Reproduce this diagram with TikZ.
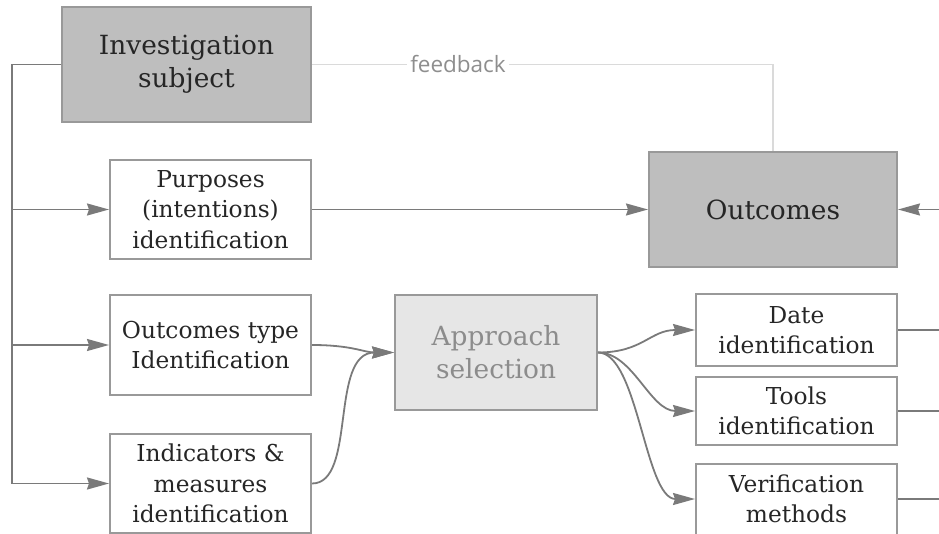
\documentclass[tikz,border=0pt]{standalone}
\usepackage{fontspec}
\setmainfont{DejaVu Serif}
\newfontfamily\fbfont{Open Sans}
\usetikzlibrary{arrows.meta}
\definecolor{linegray}{HTML}{7A7A7A}
\definecolor{boxborder}{HTML}{999999}
\definecolor{darkfill}{HTML}{BEBEBE}
\definecolor{lightfill}{HTML}{E6E6E6}
\definecolor{fbgray}{HTML}{DADADA}
\definecolor{fbtext}{HTML}{8E8E8E}
\definecolor{txt}{HTML}{262626}
\definecolor{apptxt}{HTML}{8C8C8C}
\tikzset{
  basebox/.style={draw=boxborder, line width=2pt, inner sep=0pt, align=center, text=txt, anchor=center},
  whitebox/.style={basebox, fill=white, font=\fontsize{23.3}{30.5}\selectfont},
  darkbox/.style={basebox, fill=darkfill, font=\fontsize{26.4}{33}\selectfont},
  lightbox/.style={basebox, fill=lightfill, text=apptxt, font=\fontsize{26.4}{33}\selectfont},
  conn/.style={draw=linegray, line width=1.8pt},
  arr/.style={conn, -{Stealth[length=22pt,width=12pt,inset=2pt]}},
  fbline/.style={draw=fbgray, line width=1.5pt},
}
\begin{document}
\begin{tikzpicture}[x=1pt,y=-1pt]
\useasboundingbox (0,0) rectangle (939,534);
% nodes
\node[darkbox, minimum width=249pt, minimum height=115pt] (inv) at (186.5,64.5) {Investigation\\subject};
\node[whitebox, minimum width=201pt, minimum height=99pt] (purp) at (210.5,209.5) {Purposes\\(intentions)\\identification};
\node[darkbox, minimum width=248pt, minimum height=115pt] (outc) at (773,209.5) {Outcomes};
\node[whitebox, minimum width=201pt, minimum height=100pt] (otype) at (210.5,345) {Outcomes type\\Identification};
\node[whitebox, minimum width=201pt, minimum height=99pt] (ind) at (210.5,483.5) {Indicators \&\\measures\\identification};
\node[lightbox, minimum width=202pt, minimum height=115pt] (appr) at (496,352.5) {Approach\\selection};
\node[whitebox, minimum width=201pt, minimum height=71pt] (date) at (796.5,330) {Date\\identification};
\node[whitebox, minimum width=201pt, minimum height=68pt] (tools) at (796.5,411) {Tools\\identification};
\node[whitebox, minimum width=201pt, minimum height=71pt] (verif) at (796.5,499) {Verification\\methods};
% free ends
\coordinate (trunkTop) at (12,64.5);
\coordinate (trunkBot) at (12,483.5);
\coordinate (fbcorner) at (773,64.5);
\coordinate (rOut) at (939,209.5);
\coordinate (rDate) at (939,330);
\coordinate (rTools) at (939,411);
\coordinate (rVerif) at (939,499);
% feedback
\draw[fbline] (inv.east) -- (fbcorner) -- (outc.north);
\node[fill=white, inner xsep=3pt, inner ysep=0pt, text=fbtext, font=\fbfont\fontsize{22.5}{26}\selectfont] (fb) at (458,64.5) {feedback};
% left trunk
\draw[conn] (inv.west) -- (trunkTop) -- (trunkBot);
\draw[arr] (trunkTop |- purp.west) -- (purp.west);
\draw[arr] (trunkTop |- otype.west) -- (otype.west);
\draw[arr] (trunkBot) -- (ind.west);
% main flow
\draw[arr] (purp.east) -- (outc.west);
\draw[arr] (rOut) -- (outc.east);
\draw[arr] (otype.east) .. controls +(40,0) and +(-30,0) .. (appr.west);
\draw[arr] (ind.east) .. controls +(45,0) and +(-65,0) .. (appr.west);
\draw[arr] (appr.east) .. controls +(45,0) and +(-45,0) .. (date.west);
\draw[arr] (appr.east) .. controls +(35,0) and +(-45,0) .. (tools.west);
\draw[arr] (appr.east) .. controls +(40,0) and +(-50,0) .. (verif.west);
% right exits
\draw[conn] (date.east) -- (rDate);
\draw[conn] (tools.east) -- (rTools);
\draw[conn] (verif.east) -- (rVerif);
\end{tikzpicture}
\end{document}
